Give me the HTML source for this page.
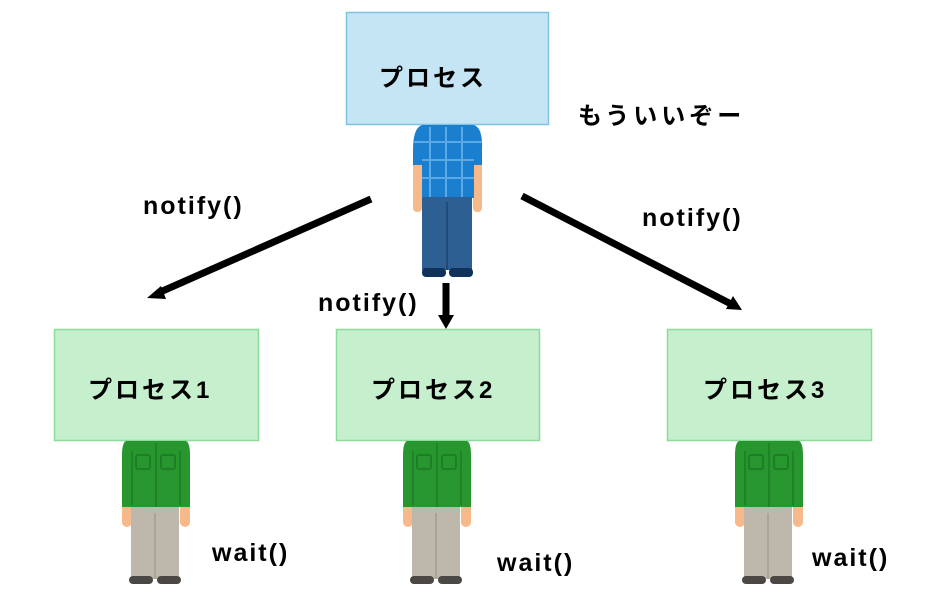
<!DOCTYPE html>
<html><head><meta charset="utf-8"><style>
html,body{margin:0;padding:0;background:#fff;}
svg{display:block;}
text{font-family:"Liberation Sans","Noto Sans CJK JP",sans-serif;font-weight:bold;fill:#000;}
</style></head><body>
<svg width="928" height="598" viewBox="0 0 928 598" xmlns="http://www.w3.org/2000/svg">
<defs>
<g id="green">
  <rect x="0" y="60" width="10" height="26" rx="5" fill="#f7b98a"/>
  <rect x="58" y="60" width="10" height="26" rx="5" fill="#f7b98a"/>
  <rect x="9" y="66" width="48" height="72" fill="#bdb8ab"/>
  <line x1="33" y1="72" x2="33" y2="138" stroke="#a39e92" stroke-width="1.5"/>
  <rect x="7" y="135" width="24" height="8" rx="4" fill="#4a4744"/>
  <rect x="35" y="135" width="24" height="8" rx="4" fill="#4a4744"/>
  <path d="M4 0 H64 Q68 2 68 14 V66 H0 V14 Q0 2 4 0 Z" fill="#27962e"/>
  <rect x="14" y="14" width="14" height="14" rx="2" fill="none" stroke="#1c7623" stroke-width="1.5"/>
  <rect x="39" y="14" width="14" height="14" rx="2" fill="none" stroke="#1c7623" stroke-width="1.5"/>
  <line x1="34" y1="2" x2="34" y2="66" stroke="#1c7623" stroke-width="1.2"/>
  <line x1="10" y1="10" x2="10" y2="64" stroke="#1c7623" stroke-width="1.2"/>
  <line x1="58" y1="10" x2="58" y2="64" stroke="#1c7623" stroke-width="1.2"/>
</g>
</defs>

<rect x="346.5" y="12.5" width="202" height="112" fill="#c5e5f4" stroke="#7dc2e3" stroke-width="1.5"/>
<text x="379" y="86" font-size="24" letter-spacing="3">プロセス</text>
<text x="578" y="124" font-size="24" letter-spacing="4">もういいぞー</text>

<rect x="413" y="150" width="9" height="62" rx="4" fill="#f7b98a"/>
<rect x="473" y="150" width="9" height="62" rx="4" fill="#f7b98a"/>
<path d="M422 125 H474 Q483 128 482 150 V165 H474 V198 H422 V165 H413 V150 Q413 128 422 125 Z" fill="#1b7fcf"/>
<g stroke="#6ab3ea" stroke-width="2" opacity="0.8">
  <line x1="430" y1="127" x2="430" y2="198"/><line x1="446" y1="127" x2="446" y2="198"/><line x1="462" y1="127" x2="462" y2="198"/>
  <line x1="414" y1="142" x2="482" y2="142"/><line x1="422" y1="160" x2="474" y2="160"/><line x1="422" y1="178" x2="474" y2="178"/>
</g>
<rect x="422" y="197" width="50" height="73" fill="#2d5f93"/>
<line x1="447" y1="202" x2="447" y2="270" stroke="#1e4470" stroke-width="1.5"/>
<rect x="422" y="268" width="24" height="9" rx="4" fill="#10325a"/>
<rect x="449" y="268" width="24" height="9" rx="4" fill="#10325a"/>

<g stroke="#000" stroke-width="7" fill="#000">
  <line x1="371" y1="199" x2="158" y2="293"/>
  <line x1="522" y1="196" x2="731" y2="304"/>
  <line x1="446" y1="283" x2="446" y2="318"/>
</g>
<polygon points="147,298 161,286 166,299" fill="#000"/>
<polygon points="742,310 726,309 733,296" fill="#000"/>
<polygon points="446,329 438,315 454,315" fill="#000"/>

<text x="143" y="214" font-size="25" letter-spacing="2">notify()</text>
<text x="642" y="226" font-size="25" letter-spacing="2">notify()</text>
<text x="318" y="311" font-size="25" letter-spacing="2">notify()</text>

<rect x="54.5" y="329.5" width="204" height="111" fill="#c6efce" stroke="#8bdc9a" stroke-width="1.5"/>
<rect x="336.5" y="329.5" width="203" height="111" fill="#c6efce" stroke="#8bdc9a" stroke-width="1.5"/>
<rect x="667.5" y="329.5" width="204" height="111" fill="#c6efce" stroke="#8bdc9a" stroke-width="1.5"/>
<text x="88" y="398" font-size="24" letter-spacing="3">プロセス1</text>
<text x="371" y="398" font-size="24" letter-spacing="3">プロセス2</text>
<text x="703" y="398" font-size="24" letter-spacing="3">プロセス3</text>

<use href="#green" x="122" y="441"/>
<use href="#green" x="403" y="441"/>
<use href="#green" x="735" y="441"/>

<text x="212" y="561" font-size="25" letter-spacing="2">wait()</text>
<text x="497" y="571" font-size="25" letter-spacing="2">wait()</text>
<text x="812" y="566" font-size="25" letter-spacing="2">wait()</text>
</svg>
</body></html>
